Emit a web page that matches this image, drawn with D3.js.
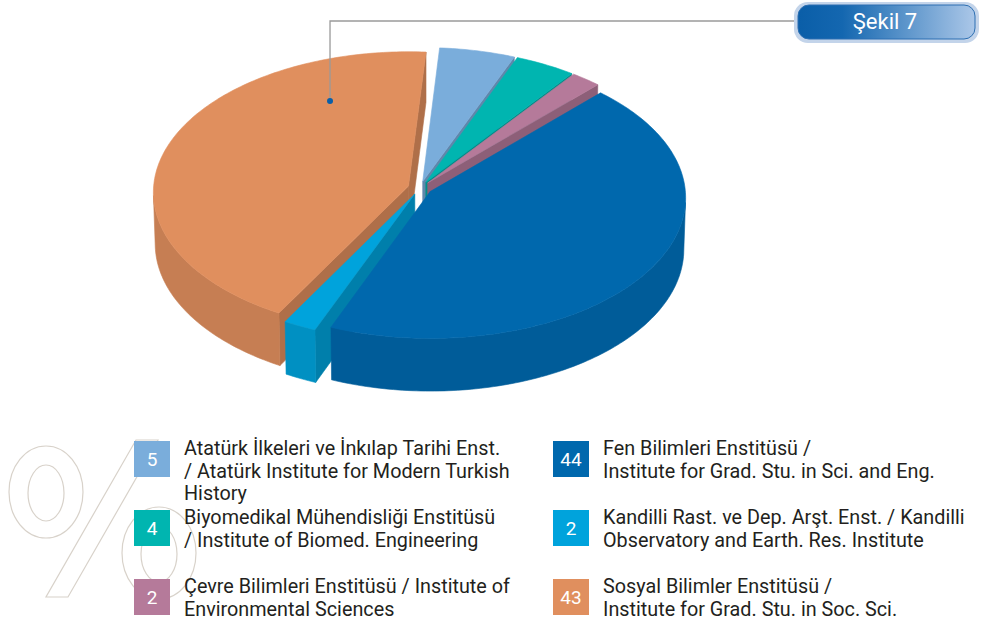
<!DOCTYPE html>
<html>
<head>
<meta charset="utf-8">
<style>
  body { margin: 0; background: #fff; }
  text { font-family: Roboto, "Open Sans", sans-serif; }
</style>
</head>
<body>
<svg id="chart" width="985" height="623"></svg>
<script src="https://cdn.jsdelivr.net/npm/d3@7"></script>
<script>
const values = [5, 4, 2, 44, 2, 43];
const numbers = ["5", "4", "2", "44", "2", "43"];
const labels = [
  ["Atatürk İlkeleri ve İnkılap Tarihi Enst.", "/ Atatürk Institute for Modern Turkish", "History"],
  ["Biyomedikal Mühendisliği Enstitüsü", "/ Institute of Biomed. Engineering"],
  ["Çevre Bilimleri Enstitüsü / Institute of", "Environmental Sciences"],
  ["Fen Bilimleri Enstitüsü /", "Institute for Grad. Stu. in Sci. and Eng."],
  ["Kandilli Rast. ve Dep. Arşt. Enst. / Kandilli", "Observatory and Earth. Res. Institute"],
  ["Sosyal Bilimler Enstitüsü /", "Institute for Grad. Stu. in Soc. Sci."]
];
const colors = ["#7aaddb", "#00b5b0", "#b57a9a", "#0068ad", "#00a3dc", "#e08f5e"];
const figureTitle = "Şekil 7";

let svg = d3.select("#chart");

// big outlined percent sign behind the legend
let deco = svg.append("g")
    .attr("fill", "none")
    .attr("stroke", "#d8d2ca")
    .attr("stroke-width", 1.2);
deco.append("ellipse").attr("cx", 46).attr("cy", 492).attr("rx", 37).attr("ry", 46);
deco.append("ellipse").attr("cx", 46).attr("cy", 493).attr("rx", 18).attr("ry", 28);
deco.append("ellipse").attr("cx", 159).attr("cy", 553).attr("rx", 37).attr("ry", 46);
deco.append("ellipse").attr("cx", 159).attr("cy", 554).attr("rx", 18).attr("ry", 28);
deco.append("polygon").attr("points", "46,597 68,597 158,440 136,440");

// 3d pie
let R = 255, H = 62, E = 12;
let tilt = Math.asin(0.55), D = 5000;
let cx = 420, cy = 188;
let start = 4 * Math.PI / 180;

function proj(X, Y, Z) {
    let u = Y * Math.sin(tilt) + Z * Math.cos(tilt);
    let w = Y * Math.cos(tilt) - Z * Math.sin(tilt);
    let s = D / (D + w);
    return [cx + X * s, cy - u * s];
}
function depth(X, Y, Z) {
    return Y * Math.cos(tilt) - Z * Math.sin(tilt);
}
let cam = [0, -D * Math.cos(tilt)];

let pie = d3.pie().sort(null).value(d => d)
    .startAngle(start)
    .endAngle(start + 2 * Math.PI);
let arcs = pie(values);

let line = d3.line();
let faces = [], walls = [], tops = [];

arcs.forEach((a, i) => {
    let mid = (a.startAngle + a.endAngle) / 2;
    let ox = E * Math.sin(mid), oy = E * Math.cos(mid);
    let n = Math.max(2, Math.ceil((a.endAngle - a.startAngle) / (Math.PI / 180)));
    let angles = d3.range(n + 1).map(k => a.startAngle + (a.endAngle - a.startAngle) * k / n);
    let rim = t => [ox + R * Math.sin(t), oy + R * Math.cos(t)];
    let c = d3.color(colors[i]);

    // top
    let topPts = [proj(ox, oy, 0)].concat(angles.map(t => { let p = rim(t); return proj(p[0], p[1], 0); }));
    tops.push({ pts: topPts, fill: colors[i], d: 0 });

    // radial cut faces
    [[a.startAngle, -1], [a.endAngle, 1]].forEach(([t, sgn]) => {
        let nx = sgn * Math.cos(t), ny = -sgn * Math.sin(t);
        let p = rim(t);
        let mx = (ox + p[0]) / 2, my = (oy + p[1]) / 2;
        let vis = nx * (cam[0] - mx) + ny * (cam[1] - my);
        if (vis <= 0) return;
        let pts = [proj(ox, oy, 0), proj(p[0], p[1], 0), proj(p[0], p[1], -H), proj(ox, oy, -H)];
        faces.push({ pts: pts, fill: c.darker(0.7).formatHex(), d: depth(mx, my, -H / 2) });
    });

    // outer wall, only parts that face the camera
    let run = [];
    let flush = () => {
        if (run.length > 1) {
            let topArc = run.map(t => { let p = rim(t); return proj(p[0], p[1], 0); });
            let botArc = run.slice().reverse().map(t => { let p = rim(t); return proj(p[0], p[1], -H); });
            let mt = run[Math.floor(run.length / 2)], mp = rim(mt);
            walls.push({ pts: topArc.concat(botArc), fill: c.darker(0.35).formatHex(), d: depth(mp[0], mp[1], -H / 2) });
        }
        run = [];
    };
    angles.forEach(t => {
        let p = rim(t);
        let vis = Math.sin(t) * (cam[0] - p[0]) + Math.cos(t) * (cam[1] - p[1]);
        if (vis > 0) run.push(t); else flush();
    });
    flush();
});

let pieG = svg.append("g");
[faces, walls, tops].forEach(list => {
    list.sort((p, q) => q.d - p.d);
    pieG.selectAll(null).data(list).join("path")
        .attr("d", f => line(f.pts) + "Z")
        .attr("fill", f => f.fill)
        .attr("stroke", f => f.fill)
        .attr("stroke-width", 0.6)
        .attr("stroke-linejoin", "round");
});

// callout from figure badge to orange slice
let orange = arcs[5];
let calloutAngle = orange.startAngle + (orange.endAngle - orange.startAngle) * 0.8;
let om = (orange.startAngle + orange.endAngle) / 2;
let dot = proj(E * Math.sin(om) + 0.7 * R * Math.sin(calloutAngle),
               E * Math.cos(om) + 0.7 * R * Math.cos(calloutAngle), 0);
svg.append("polyline")
    .attr("points", [[795, 21], [dot[0], 21], dot].join(" "))
    .attr("fill", "none")
    .attr("stroke", "#9a9a9a")
    .attr("stroke-width", 1.3);
svg.append("circle").attr("cx", dot[0]).attr("cy", dot[1]).attr("r", 3).attr("fill", "#0a5fa8");

// badge
let defs = svg.append("defs");
let grad = defs.append("linearGradient").attr("id", "badge");
grad.append("stop").attr("offset", "0%").attr("stop-color", "#0a5ea8");
grad.append("stop").attr("offset", "25%").attr("stop-color", "#1467b0");
grad.append("stop").attr("offset", "100%").attr("stop-color", "#abc7e8");
svg.append("rect").attr("x", 794).attr("y", 2).attr("width", 185).attr("height", 41).attr("rx", 14)
    .attr("fill", "#c3d4ea");
svg.append("rect").attr("x", 798).attr("y", 5).attr("width", 177).attr("height", 34).attr("rx", 11)
    .attr("fill", "url(#badge)")
    .attr("stroke", "#2d6fb2").attr("stroke-width", 1);
svg.append("text").attr("x", 885).attr("y", 29).attr("text-anchor", "middle")
    .attr("fill", "#fff").attr("font-size", 22).text(figureTitle);

// legend
let legX = [134, 553], legY = [441, 510, 579];
let leg = svg.selectAll(".leg").data(values).join("g")
    .attr("class", "leg")
    .attr("transform", (d, i) => `translate(${legX[Math.floor(i / 3)]},${legY[i % 3]})`);
leg.append("rect").attr("width", 36).attr("height", 36).attr("fill", (d, i) => colors[i]);
leg.append("text").attr("x", 18).attr("y", 25).attr("text-anchor", "middle")
    .attr("fill", "#fff").attr("font-size", 19).text((d, i) => numbers[i]);
leg.append("text").attr("x", 50).attr("y", 14)
    .attr("fill", "#231f20").attr("font-size", 19.8)
    .selectAll("tspan").data((d, i) => labels[i]).join("tspan")
    .attr("x", 50).attr("dy", (d, j) => j ? 22.5 : 0).text(d => d);
</script>
</body>
</html>
